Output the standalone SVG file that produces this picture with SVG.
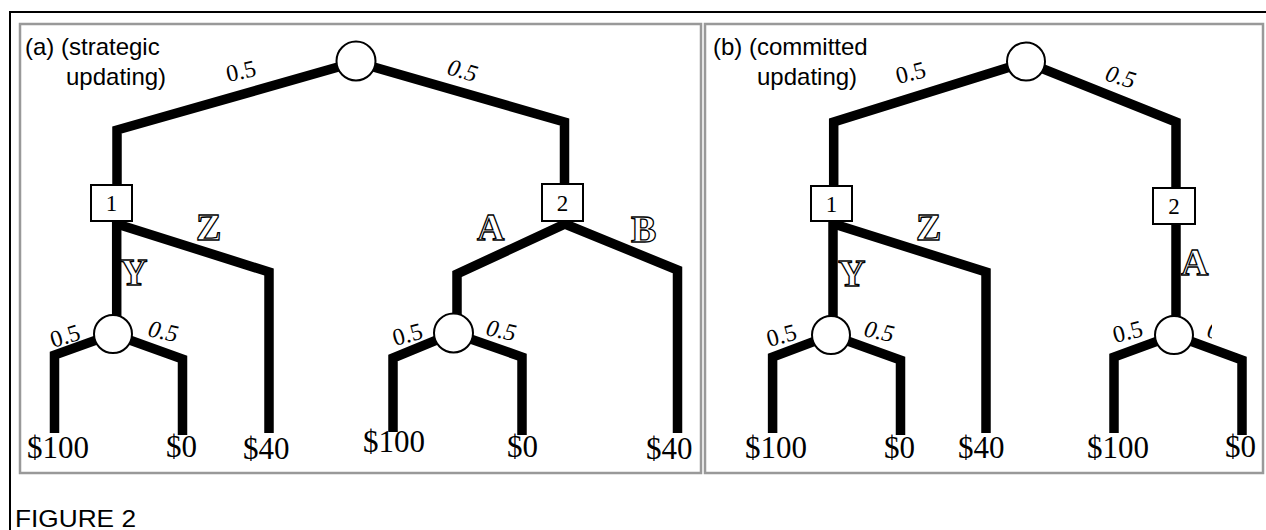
<svg xmlns="http://www.w3.org/2000/svg" width="1266" height="530" viewBox="0 0 1266 530">
  <defs>
    <style>
      .frame { fill: none; stroke: #000; stroke-width: 2; }
      .panel { fill: #fff; stroke: #999; stroke-width: 2.5; }
      .edge { fill: none; stroke: #000; stroke-width: 9.5; stroke-linejoin: miter; stroke-linecap: butt; }
      .chance { fill: #fff; stroke: #000; stroke-width: 2; }
      .dec { fill: #fff; stroke: #000; stroke-width: 2; }
      .num { font-family: "Liberation Serif", serif; font-size: 23px; text-anchor: middle; }
      .prob { font-family: "Liberation Serif", serif; font-size: 24px; }
      .it { font-style: italic; }
      .pay { font-family: "Liberation Serif", serif; font-size: 31px; }
      .act { font-family: "Liberation Serif", serif; font-size: 38px; font-weight: bold; fill: #fff; stroke: #000; stroke-width: 1.3; }
      .title { font-family: "Liberation Sans", Arial, sans-serif; font-size: 24px; }
    </style>
    <clipPath id="cut-b">
      <rect x="1100" y="300" width="112" height="60"/>
    </clipPath>
  </defs>

  <rect width="1266" height="530" fill="#fff"/>

  <!-- outer frame: top and left rules -->
  <path class="frame" d="M10,530 L10,12 L1266,12"/>

  <!-- panels -->
  <rect class="panel" x="20" y="24" width="681" height="449"/>
  <rect class="panel" x="705" y="24" width="558" height="449"/>

  <!-- connectors -->
  <g id="connectors">
    <!-- panel (a) -->
    <path class="edge" d="M117,186 L117,130 L356,62 L564.5,122 L564.5,185"/>
    <path class="edge" d="M117,224 L269,272 L269,433"/>
    <path class="edge" d="M116.7,221 L116.7,330"/>
    <path class="edge" d="M54.5,433 L54.5,355 L113,334 L182.5,359 L182.5,435"/>
    <path class="edge" d="M457,320 L457,274 L565,224 L677.5,270 L677.5,433"/>
    <path class="edge" d="M393,432 L393,358 L453.5,333 L522,357 L522,435"/>
    <!-- panel (b) -->
    <path class="edge" d="M833.7,186 L833.7,122 L1026,62 L1176,122 L1176,188"/>
    <path class="edge" d="M834,224 L986,272 L986,433"/>
    <path class="edge" d="M833,221 L833,330"/>
    <path class="edge" d="M772.6,433 L772.6,357 L831,335 L900.5,360 L900.5,435"/>
    <path class="edge" d="M1176,224 L1176,330"/>
    <path class="edge" d="M1114,433 L1114,357 L1174,335 L1242,360 L1242,435"/>
  </g>

  <!-- panel (a) nodes -->
  <g id="a-root"><circle class="chance" cx="356" cy="61" r="19.5"/></g>
  <g id="a-p1"><rect class="dec" x="91" y="185" width="41" height="36"/><text class="num" x="111.5" y="211">1</text></g>
  <g id="a-p2"><rect class="dec" x="542" y="184" width="41" height="37"/><text class="num" x="562.5" y="211">2</text></g>
  <g id="a-cy"><circle class="chance" cx="113" cy="334" r="19"/></g>
  <g id="a-ca"><circle class="chance" cx="453.5" cy="333" r="19.5"/></g>

  <!-- panel (b) nodes -->
  <g id="b-root"><circle class="chance" cx="1026" cy="61.5" r="19"/></g>
  <g id="b-p1"><rect class="dec" x="811" y="186" width="41" height="35"/><text class="num" x="831.5" y="212">1</text></g>
  <g id="b-p2"><rect class="dec" x="1153" y="188" width="42" height="36"/><text class="num" x="1174" y="214">2</text></g>
  <g id="b-cy"><circle class="chance" cx="831" cy="335" r="19"/></g>
  <g id="b-ca"><circle class="chance" cx="1174" cy="335" r="19"/></g>

  <!-- titles -->
  <g id="titles">
    <text class="title" x="25" y="55">(a) (strategic</text>
    <text class="title" x="66" y="85">updating)</text>
    <text class="title" x="713" y="55">(b) (committed</text>
    <text class="title" x="757" y="85">updating)</text>
    <text class="title" x="15" y="527" textLength="121" lengthAdjust="spacingAndGlyphs">FIGURE 2</text>
  </g>

  <!-- probabilities -->
  <g id="probs">
    <text class="prob" transform="translate(228,82) rotate(-12)">0.5</text>
    <text class="prob it" transform="translate(446,74) rotate(16)">0.5</text>
    <text class="prob" transform="translate(53,348) rotate(-17)">0.5</text>
    <text class="prob it" transform="translate(147,336) rotate(12)">0.5</text>
    <text class="prob" transform="translate(395,346) rotate(-15)">0.5</text>
    <text class="prob it" transform="translate(485,335) rotate(12)">0.5</text>

    <text class="prob" transform="translate(898,84) rotate(-14)">0.5</text>
    <text class="prob it" transform="translate(1104,80) rotate(17)">0.5</text>
    <text class="prob" transform="translate(769,347) rotate(-15)">0.5</text>
    <text class="prob it" transform="translate(863,336) rotate(12)">0.5</text>
    <text class="prob" transform="translate(1115,343) rotate(-14)">0.5</text>
    <g clip-path="url(#cut-b)">
      <text class="prob it" transform="translate(1206,337) rotate(12)">0.5</text>
    </g>
  </g>

  <!-- actions -->
  <g id="actions">
    <text class="act" x="196" y="240">Z</text>
    <text class="act" x="120" y="285">Y</text>
    <text class="act" x="477" y="240">A</text>
    <text class="act" x="631" y="242">B</text>
    <text class="act" x="916" y="240">Z</text>
    <text class="act" x="838" y="286">Y</text>
    <text class="act" x="1181" y="275">A</text>
  </g>

  <!-- payoffs -->
  <g id="payoffs">
    <text class="pay" x="27" y="458">$100</text>
    <text class="pay" x="166" y="457">$0</text>
    <text class="pay" x="243" y="459">$40</text>
    <text class="pay" x="363" y="452">$100</text>
    <text class="pay" x="507" y="457">$0</text>
    <text class="pay" x="646" y="459">$40</text>

    <text class="pay" x="745" y="458">$100</text>
    <text class="pay" x="884" y="458">$0</text>
    <text class="pay" x="958" y="458">$40</text>
    <text class="pay" x="1087" y="458">$100</text>
    <text class="pay" x="1225" y="457">$0</text>
  </g>
</svg>
